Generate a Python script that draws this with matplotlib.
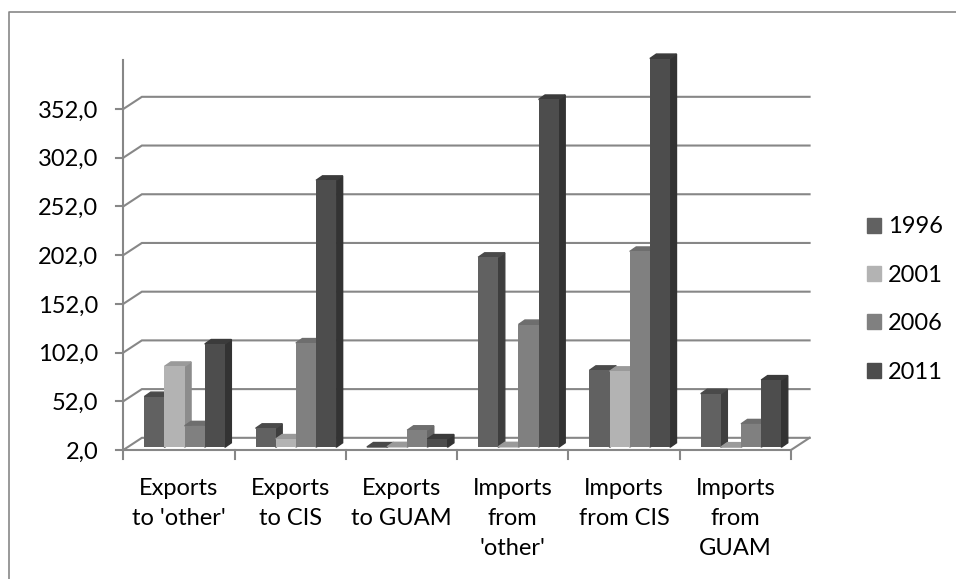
import matplotlib.pyplot as plt
from matplotlib.lines import Line2D
from matplotlib.patches import Patch, Polygon

plt.rcParams['font.family'] = ['Lato', 'DejaVu Sans']

categories = ["Exports\nto 'other'", "Exports\nto CIS", "Exports\nto GUAM",
              "Imports\nfrom\n'other'", "Imports\nfrom CIS", "Imports\nfrom\nGUAM"]
years = ['1996', '2001', '2006', '2011']
v1996 = [54, 21.5, 2.3, 197, 81, 57]
v2001 = [85, 10.5, 2.5, 2.5, 80, 2.2]
v2006 = [24, 109, 19.5, 128, 203, 26]
v2011 = [108, 276, 10.5, 359, 401, 71]
series = [v1996, v2001, v2006, v2011]
yticks = [2, 52, 102, 152, 202, 252, 302, 352]

front = ['#616161', '#b3b3b3', '#808080', '#4d4d4d']
side = ['#3e3e3e', '#8c8c8c', '#676767', '#333333']
top = ['#4a4a4a', '#9a9a9a', '#6e6e6e', '#3b3b3b']
grid = '#878787'
fs = 17

W, H = 956, 579
fig = plt.figure(figsize=(W / 100, H / 100), dpi=100)

# plot area in pixels: x 123..791, y value 2 at px 450, ~0.974 px per unit
ppu = (450 - 109) / 350
ymin, ymax = 2, 422
ax = fig.add_axes([123.3 / W, (H - 450) / H, 667.7 / W, (ymax - ymin) * ppu / H])
ax.set_xlim(0, 6)
ax.set_ylim(ymin, ymax)
for s in ax.spines.values():
    s.set_visible(False)

# 3d offsets (data units)
dx, dy = 0.167, 12.5          # back wall
bdx, bdy = 0.058, 4.6         # bar depth
oy = 2.8                      # bar front face sits a bit behind the floor edge
bw = 0.181
start = 0.189

# back wall grid + side diagonals
for v in yticks:
    ax.plot([0, dx, 6 + dx], [v, v + dy, v + dy], color=grid, lw=1.5, zorder=1,
            clip_on=False, solid_joinstyle='miter')
    ax.plot([-0.07, 0], [v, v], color=grid, lw=1.5, zorder=1, clip_on=False)
# floor edges and front axis
ax.plot([0, 6, 6 + dx], [2, 2, 2 + dy], color=grid, lw=1.5, zorder=1, clip_on=False)
ax.plot([0, 0], [2, 402], color=grid, lw=1.5, zorder=6, clip_on=False)
for i in range(7):
    ax.plot([i, i], [2, 2 - 9 / ppu], color=grid, lw=1.5, clip_on=False)

for j, vals in enumerate(series):
    xs = [i + start + j * bw for i in range(len(categories))]
    bars = ax.bar(xs, [v - 2 for v in vals], width=bw, bottom=2 + oy, align='edge',
                  color=front[j], zorder=3 + j * 0.1 + 0.05, clip_on=False)
    for r in bars:
        x0, x1 = r.get_x(), r.get_x() + r.get_width()
        b, t = r.get_y(), r.get_y() + r.get_height()
        ax.add_patch(Polygon([(x1, b), (x1 + bdx, b + bdy), (x1 + bdx, t + bdy), (x1, t)],
                             closed=True, color=side[j], zorder=3 + j * 0.1, clip_on=False))
        ax.add_patch(Polygon([(x0, t), (x0 + bdx, t + bdy), (x1 + bdx, t + bdy), (x1, t)],
                             closed=True, color=top[j], zorder=3 + j * 0.1, clip_on=False))

ax.set_yticks(yticks)
ax.set_yticklabels([f'{v:.1f}'.replace('.', ',') for v in yticks])
ax.set_xticks([i + 0.5 for i in range(len(categories))])
ax.set_xticklabels(categories, linespacing=1.55)
ax.tick_params(axis='y', length=0, pad=18, labelsize=fs)
ax.tick_params(axis='x', length=0, pad=20, labelsize=fs)

handles = [Patch(color=c) for c in front]
fig.legend(handles, years, loc='center left', bbox_to_anchor=(867 / W, (H - 299.5) / H),
           frameon=False, fontsize=fs, handlelength=0.6, handleheight=0.6,
           handletextpad=0.3, labelspacing=1.16, borderpad=0, borderaxespad=0)

# chart border (only top and left are inside the picture)
fig.add_artist(Line2D([8.5 / W, 8.5 / W, 1.0], [0, (H - 12) / H, (H - 12) / H],
                      color=grid, lw=1.2))

fig.savefig('out.png', dpi=100)
